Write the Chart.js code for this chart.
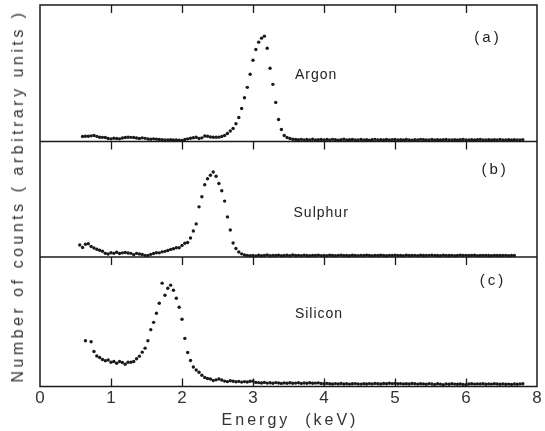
<!DOCTYPE html>
<html><head><meta charset="utf-8">
<script src="https://cdn.jsdelivr.net/npm/chart.js@4"></script>
<style>
html,body{margin:0;padding:0;background:#fff;}
#wrap{position:relative;width:545px;height:431px;background:#fff;}
canvas{position:absolute;left:0;top:0;}
.t{position:absolute;font-family:"Liberation Sans",Arial,sans-serif;color:#333;white-space:pre;}
</style></head><body>
<div id="wrap">
<canvas id="c" width="545" height="431"></canvas>
<div class="t" style="left:18px;top:196px;font-size:16px;letter-spacing:3.5px;transform:translate(-50%,-50%) rotate(-90deg);">Number of counts ( arbitrary units )</div>
<div class="t" style="left:290px;top:420px;font-size:16px;letter-spacing:3px;transform:translate(-50%,-50%);">Energy  (keV)</div>
</div>
<script>
// Energy channels (axis units)
const energy = [
0.56,0.60,0.64,0.68,0.72,0.76,0.80,0.84,0.88,0.92,0.96,
1.00,1.04,1.08,1.12,1.16,1.20,1.24,1.28,1.32,1.36,1.40,1.44,1.48,1.52,1.56,1.60,1.64,1.68,1.72,1.76,1.80,1.84,1.88,1.92,1.96,
2.00,2.04,2.08,2.12,2.16,2.20,2.24,2.28,2.32,2.36,2.40,2.44,2.48,2.52,2.56,2.60,2.64,2.68,2.72,2.76,2.80,2.84,2.88,2.92,2.96,
3.00,3.04,3.08,3.12,3.16,3.20,3.24,3.28,3.32,3.36,3.40,3.44,3.48,3.52,3.56,3.60,3.64,3.68,3.72,3.76,3.80,3.84,3.88,3.92,3.96,
4.00,4.04,4.08,4.12,4.16,4.20,4.24,4.28,4.32,4.36,4.40,4.44,4.48,4.52,4.56,4.60,4.64,4.68,4.72,4.76,4.80,4.84,4.88,4.92,4.96,
5.00,5.04,5.08,5.12,5.16,5.20,5.24,5.28,5.32,5.36,5.40,5.44,5.48,5.52,5.56,5.60,5.64,5.68,5.72,5.76,5.80,5.84,5.88,5.92,5.96,
6.00,6.04,6.08,6.12,6.16,6.20,6.24,6.28,6.32,6.36,6.40,6.44,6.48,6.52,6.56,6.60,6.64,6.68,6.72,6.76,6.80
];
// Counts (arbitrary units), panel (a) Argon
const argon = [
null,5,5.3,5.3,5.7,6,5.2,4.3,4.2,4,3,
2.7,3.3,3,2.7,3.5,4,4.3,4.2,4,3.5,3,3.7,3.2,2.6,2.3,2.7,2.4,2,1.8,1.7,1.7,1.8,1.7,1.5,1.3,
1.2,2,2.7,3.3,3.8,4.3,3,3.7,5.5,5.3,4.6,4.3,4.3,4.4,5,6,8,10.5,13,17.7,24,33,43.7,54,67,
81,91.7,99,103,105,93,73,57,39,22,12,6,4,3,2.3,2,1.8,2.2,1.6,2,1.7,2.3,1.5,1.8,2.1,
1.7,2,1.5,2.2,1.8,1.4,1.9,2.3,1.6,1.8,2,1.5,1.7,2.1,1.6,1.9,1.4,1.8,2.2,1.6,1.8,1.5,2,1.7,1.9,
2.1,1.6,1.8,1.5,2,1.7,1.4,1.9,1.6,2.2,1.8,1.5,1.7,2,1.6,1.9,1.5,1.8,2.1,1.6,1.7,1.9,1.5,1.8,2,
1.7,1.5,1.9,1.6,1.8,2,1.5,1.7,1.9,1.6,1.8,1.5,2,1.7,1.6,1.9,1.5,1.8,1.7,1.6,1.8
];
// panel (b) Sulphur
const sulphur = [
12,9.5,12.7,13.3,10.5,9,7.8,6.8,5.8,3.7,3,
4.3,3.7,4.8,3.5,4.2,4.6,4,3.7,2.3,3.7,3,2.5,1.5,1.5,2.7,3.5,4.3,4.2,5.2,5.7,6.5,7.6,8.3,9.2,9.2,
11.5,13.7,14.5,19,26,33,50,60,72,78,81.5,84.7,80.5,73.3,66,55.7,40,27,14,8.5,5,3.2,2,1.5,1.3,
1.5,1.2,1.8,1.4,1.6,2,1.3,1.7,1.5,1.9,1.4,1.6,1.8,1.3,2,1.5,1.7,1.4,1.8,1.6,1.3,1.7,1.5,1.9,1.4,
1.6,1.3,1.8,1.5,1.4,1.7,1.9,1.5,1.6,1.3,1.8,1.6,1.4,1.7,1.5,1.9,1.6,1.4,1.7,1.5,1.8,1.6,1.3,1.7,1.5,
1.8,1.5,1.6,1.4,1.9,1.6,1.5,1.7,1.4,1.8,1.6,1.5,1.7,1.9,1.5,1.6,1.4,1.8,1.6,1.5,1.7,1.4,1.6,1.8,1.5,
1.7,1.5,1.6,1.8,1.4,1.6,1.7,1.5,1.6,1.4,1.7,1.5,1.6,1.5,1.7,1.4,1.6,1.5,null,null,null
];
// panel (c) Silicon
const silicon = [
null,null,45.7,null,44.7,35,30.5,29,27,25.7,26.5,
24.3,25,23.3,25,24,22.3,24.3,24.3,25,27.7,30.3,34.3,38.3,45.7,56.7,64,73,83,103,91,98,101,96,88,79,
67,48,34,26,19.5,16.5,14.3,11.3,9,8,7.5,6,6.7,7.5,6.5,5.5,5,5.8,5.3,4.8,5.2,4.5,5,4.6,5.3,
5.5,4.2,4,3.6,4.2,3.5,3.8,3.3,4,3.6,3.2,3.7,3.4,3.9,3.3,3.5,3.8,3.2,3.6,3.4,3.9,3.3,3.5,3.7,3.1,
2.8,3.2,2.9,2.6,3,2.7,3.1,2.6,2.9,2.5,2.8,3,2.7,2.5,2.9,2.6,3,2.7,3.2,2.8,2.6,3.1,2.9,3.3,3,
3.2,2.8,3,2.7,2.9,2.6,3.1,2.8,2.5,2.9,2.7,2.4,3,2.6,2.2,2.9,2.5,1.8,2.7,2.4,2.8,2.5,2.3,2.6,2.2,
2,2.6,2.8,2.5,2.7,2.6,2.9,2.4,2.7,2.5,2.8,2.6,2.4,2.7,2.3,2.5,2.2,2.6,2.4,2.7,2.9
];
// Axis ticks
const xTickValues = [0,1,2,3,4,5,6,7];
const xTickLabels = ['0','1','2','3','4','5','6','8'];
const innerTickValues = [1,2,3,4,5,6];
// Panel texts
const panelLabels = ['(a)','(b)','(c)'];
const elementNames = ['Argon','Sulphur','Silicon'];
const panelMax = [136,115,129];

function toPoints(vals){
  const out=[];
  energy.forEach((e,i)=>{ if(vals[i]!==null && vals[i]!==undefined) out.push({x:e,y:vals[i]}); });
  return out;
}

const ink = '#1a1a1a';
function ds(vals, axis){
  return {data: toPoints(vals), yAxisID: axis, pointRadius: 1.7, pointBackgroundColor: ink,
          pointBorderWidth: 0, showLine: false, clip: false};
}

const framePlugin = {
  id: 'frame',
  afterDatasetsDraw(chart){
    const {ctx, chartArea} = chart;
    const x = chart.scales.x;
    const ys = [chart.scales.yA, chart.scales.yB, chart.scales.yC];
    ctx.save();
    ctx.strokeStyle = ink;
    ctx.lineWidth = 1.5;
    ctx.beginPath();
    ctx.rect(chartArea.left, chartArea.top, chartArea.right - chartArea.left, chartArea.bottom - chartArea.top);
    ys.slice(0,2).forEach(s => {
      const y = s.getPixelForValue(s.min);
      ctx.moveTo(chartArea.left, y); ctx.lineTo(chartArea.right, y);
    });
    ctx.stroke();
    ctx.lineWidth = 1.3;
    ctx.beginPath();
    innerTickValues.forEach(v => {
      const px = Math.round(x.getPixelForValue(v)) + 0.5;
      ys.forEach(s => {
        const yt = s.getPixelForValue(s.max);
        ctx.moveTo(px, yt); ctx.lineTo(px, yt + 8);
      });
      const yb = ys[2].getPixelForValue(ys[2].min);
      ctx.moveTo(px, yb); ctx.lineTo(px, yb - 8);
    });
    ctx.stroke();
    // panel texts
    ctx.fillStyle = '#222';
    ctx.textAlign = 'center';
    ctx.textBaseline = 'middle';
    const labelPos = [[6.31,103],[6.41,87],[6.38,105]];
    const namePos = [[3.89,66],[3.96,44],[3.93,72]];
    ys.forEach((s,i) => {
      ctx.font = '15px "Liberation Sans", Arial, sans-serif';
      try { ctx.letterSpacing = '3px'; } catch(e) {}
      ctx.fillText(panelLabels[i], x.getPixelForValue(labelPos[i][0]), s.getPixelForValue(labelPos[i][1]));
      ctx.font = '14px "Liberation Sans", Arial, sans-serif';
      try { ctx.letterSpacing = '1px'; } catch(e) {}
      ctx.fillText(elementNames[i], x.getPixelForValue(namePos[i][0]), s.getPixelForValue(namePos[i][1]));
    });
    ctx.restore();
  }
};

const yBase = {type:'linear', position:'left', stack:'panels', display:false, min:0};

new Chart(document.getElementById('c'), {
  type: 'scatter',
  data: { datasets: [ ds(argon,'yA'), ds(sulphur,'yB'), ds(silicon,'yC') ] },
  options: {
    responsive: false,
    devicePixelRatio: 1,
    animation: false,
    layout: { padding: { left: 40, right: 8, top: 5, bottom: 20 } },
    plugins: { legend: {display:false}, tooltip: {enabled:false} },
    scales: {
      x: {
        type: 'linear', min: 0, max: 7,
        afterBuildTicks: s => { s.ticks = xTickValues.map(v => ({value: v})); },
        ticks: { callback: (v, i) => xTickLabels[i], autoSkip: false, maxRotation: 0,
                 font: {family: '"Liberation Sans", Arial, sans-serif', size: 17}, color: '#333', padding: 2 },
        grid: { display: false, drawTicks: false, tickLength: 0 }, border: { display: false }
      },
      yA: Object.assign({}, yBase, {max: panelMax[0], stackWeight: panelMax[0], weight: 3}),
      yB: Object.assign({}, yBase, {max: panelMax[1], stackWeight: panelMax[1], weight: 2}),
      yC: Object.assign({}, yBase, {max: panelMax[2], stackWeight: panelMax[2], weight: 1})
    }
  },
  plugins: [framePlugin]
});
</script>
</body></html>
